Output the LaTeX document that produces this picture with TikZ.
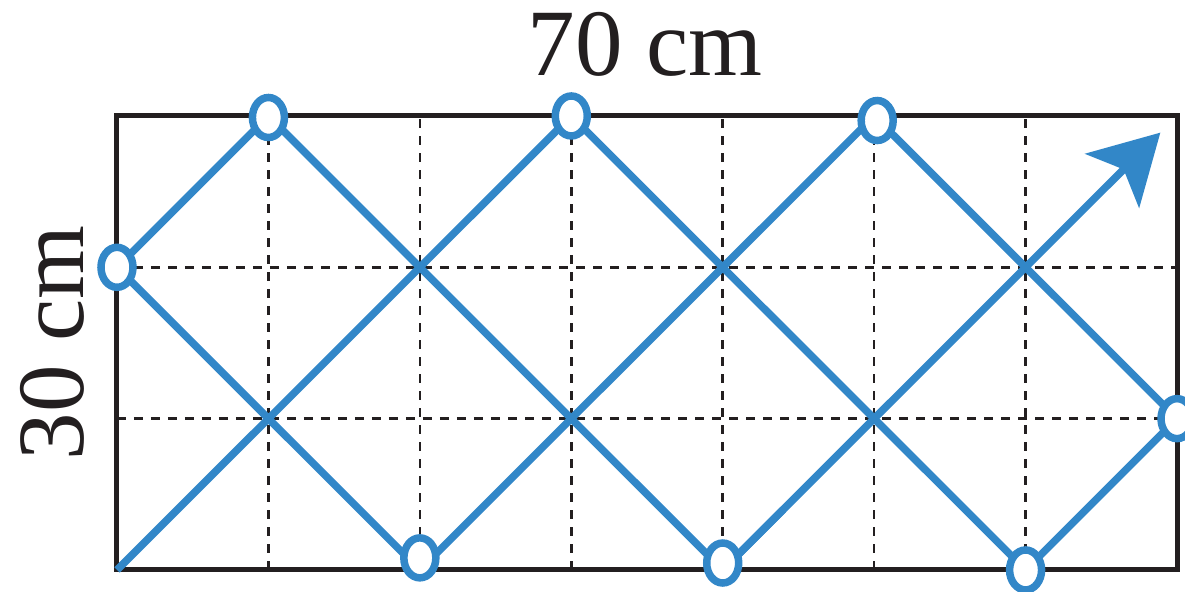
\documentclass[tikz,border=0pt]{standalone}
\usepackage{fontspec}
\setmainfont{Liberation Serif}
\usetikzlibrary{arrows.meta,shapes.geometric}
\definecolor{pathblue}{RGB}{50,135,200}
\definecolor{frame}{RGB}{35,31,32}
\tikzset{
  gridline/.style={draw=frame, line width=2.6pt, dash pattern=on 9pt off 8pt},
  framebox/.style={draw=frame, line width=5pt},
  bouncepath/.style={draw=pathblue, line width=7.5pt, line join=miter},
  bounce/.style={ellipse, draw=pathblue, fill=white, line width=7.5pt, minimum width=32pt, minimum height=40pt, inner sep=0pt},
  dimlabel/.style={font=\fontsize{95}{95}\selectfont, text=frame, inner sep=0pt}
}
\begin{document}
\begin{tikzpicture}[x=151.43pt,y=151.33pt]
\useasboundingbox (-0.7726,-0.1454) rectangle (7.0528,3.7664);
% grid
\foreach \i in {1,...,6} \draw[gridline] (\i,0) -- (\i,3);
\foreach \j in {1,2} \draw[gridline] (0,\j) -- (7,\j);
\draw[framebox] (0,0) rectangle (7,3);
% bounce points
\coordinate (s) at (0,0);
\coordinate (b1) at (3,3);
\coordinate (b2) at (6,0);
\coordinate (b3) at (7,1);
\coordinate (b4) at (5,3);
\coordinate (b5) at (2,0);
\coordinate (b6) at (0,2);
\coordinate (b7) at (1,3);
\coordinate (b8) at (4,0);
\coordinate (e) at (6.89,2.89);
\draw[bouncepath] (s) -- (b1) -- (b2) -- (b3) -- (b4) -- (b5) -- (b6) -- (b7) -- (b8) -- (4.4,0.4);
\draw[bouncepath, -{Stealth[length=68pt,width=76pt,inset=16pt]}] (b8) -- (e);
% circles
\node[bounce] (n1) at (b1) {};
\node[bounce] (n2) at (b2) {};
\node[bounce] (n3) at (b3) {};
\node[bounce] (n4) at (5.02,2.97) {};
\node[bounce] (n5) at (2,0.08) {};
\node[bounce] (n6) at (b6) {};
\node[bounce] (n7) at (1,2.99) {};
\node[bounce] (n8) at (4,0.046) {};
% labels
\node[dimlabel] (w) at (3.487,3.47) {70 cm};
\node[dimlabel, rotate=90] (h) at (-0.43,1.5) {30 cm};
\end{tikzpicture}
\end{document}
